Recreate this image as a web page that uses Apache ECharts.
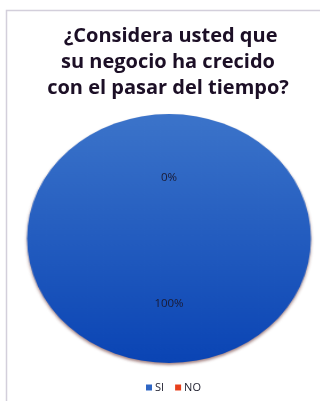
<!DOCTYPE html>
<html>
<head>
<meta charset="utf-8">
<script src="https://cdn.jsdelivr.net/npm/echarts@6/dist/echarts.min.js"></script>
<style>
  html, body { margin: 0; padding: 0; background: #ffffff; }
  #wrap { position: relative; width: 320px; height: 401px; overflow: hidden; }
  #pieLayer, #textLayer { position: absolute; left: 0; top: 0; width: 320px; height: 401px; }
  /* the survey pie is drawn as a wide oval */
  #pieLayer { transform: scaleX(1.14); transform-origin: 169px 238.5px; }
</style>
</head>
<body>
<div id="wrap">
  <div id="pieLayer"></div>
  <div id="textLayer"></div>
</div>
<script>
const titleText = ' ¿Considera usted que\nsu negocio ha crecido\ncon el pasar del tiempo?';
const categories = ['SI', 'NO'];
const percents = [100, 0];
const sliceColors = ['#2f66c4', '#e8401c'];

const pieData = categories.map((name, i) => ({ name, value: percents[i] }));
const center = [169, 238.5];
const radius = 124.5;

// lower layer: the coloured slices
const pieChart = echarts.init(document.getElementById('pieLayer'), null, { renderer: 'canvas' });
pieChart.setOption({
  animation: false,
  series: [{
    type: 'pie',
    center: center,
    radius: radius,
    startAngle: 90,
    clockwise: true,
    label: { show: false },
    labelLine: { show: false },
    emphasis: { disabled: true },
    data: pieData.map((d, i) => ({
      name: d.name,
      value: d.value,
      itemStyle: {
        color: i === 0 ? {
          type: 'linear', x: 0, y: 0, x2: 0, y2: 1,
          colorStops: [
            { offset: 0, color: '#3c74ca' },
            { offset: 1, color: '#0a44b4' }
          ]
        } : sliceColors[i],
        shadowColor: 'rgba(90, 30, 30, 0.55)',
        shadowBlur: 3,
        shadowOffsetY: 2
      }
    }))
  }]
});

// upper layer: frame, title, legend and percentage labels
const textChart = echarts.init(document.getElementById('textLayer'), null, { renderer: 'canvas' });
textChart.setOption({
  animation: false,
  graphic: [{
    type: 'polyline',
    shape: { points: [[6.5, 420], [6.5, 10.5], [330, 10.5]] },
    style: { stroke: '#d3cfdb', lineWidth: 1.5, fill: null },
    silent: true
  }],
  title: {
    text: titleText,
    left: 168,
    top: 23,
    textAlign: 'center',
    padding: 0,
    textStyle: {
      fontFamily: 'Open Sans',
      fontWeight: 'bold',
      fontSize: 20,
      lineHeight: 26,
      color: '#1c0f26',
      align: 'center'
    }
  },
  legend: {
    bottom: 3,
    left: 141,
    itemWidth: 6,
    itemHeight: 6,
    itemGap: 11,
    icon: 'rect',
    textStyle: { fontFamily: 'Open Sans', fontSize: 11, color: '#1c1c2c', padding: [0, 0, 0, -2] },
    data: categories.map((name, i) => ({ name, itemStyle: { color: sliceColors[i] } })),
    selectedMode: false
  },
  series: [{
    type: 'pie',
    center: center,
    radius: radius,
    startAngle: 90,
    clockwise: true,
    silent: true,
    itemStyle: { color: 'rgba(0,0,0,0)' },
    label: {
      show: true,
      position: 'inside',
      formatter: '{d}%',
      fontFamily: 'Open Sans',
      fontSize: 11.5,
      color: '#1a1a33'
    },
    labelLine: { show: false },
    data: pieData.map((d, i) => i === 1 ? { ...d, label: { offset: [0, 4] } } : d)
  }]
});
</script>
</body>
</html>
